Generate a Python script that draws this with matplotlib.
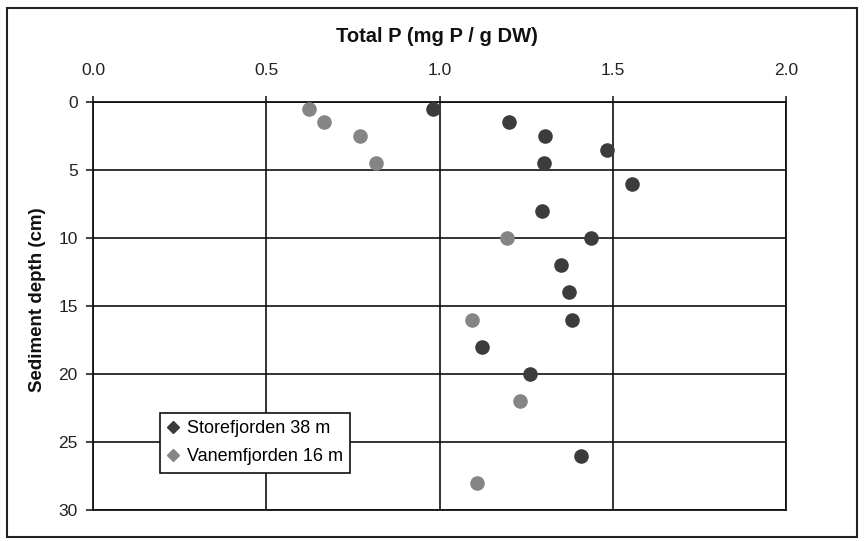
import matplotlib.pyplot as plt
from matplotlib.lines import Line2D
from matplotlib.patches import Rectangle

plt.rcParams['font.family'] = ['Liberation Sans', 'DejaVu Sans']

# Storefjorden 38 m
store_p = [0.98, 1.20, 1.305, 1.483, 1.302, 1.555, 1.296, 1.437, 1.351, 1.374, 1.382, 1.124, 1.261, 1.408]
store_depth = [0.5, 1.5, 2.5, 3.5, 4.5, 6, 8, 10, 12, 14, 16, 18, 20, 26]

# Vanemfjorden 16 m
vanem_p = [0.624, 0.667, 0.770, 0.816, 1.195, 1.095, 1.233, 1.109]
vanem_depth = [0.5, 1.5, 2.5, 4.5, 10, 16, 22, 28]

x_ticks = [0.0, 0.5, 1.0, 1.5, 2.0]
y_ticks = [0, 5, 10, 15, 20, 25, 30]

dark = '#3c3c3c'
gray = '#858585'

fig = plt.figure(figsize=(8.64, 5.41), dpi=100)
ax = fig.add_axes([93 / 864, 1 - 510 / 541, (786 - 93) / 864, (510 - 102) / 541])

ax.plot(store_p, store_depth, 'o', color=dark, markersize=10.5, markeredgewidth=0, zorder=3)
ax.plot(vanem_p, vanem_depth, 'o', color=gray, markersize=10.5, markeredgewidth=0, zorder=3)

ax.set_xlim(0, 2.0)
ax.set_ylim(30, 0)
ax.xaxis.tick_top()
ax.set_xticks(x_ticks)
ax.set_xticklabels([f'{t:.1f}' for t in x_ticks])
ax.set_yticks(y_ticks)
ax.tick_params(axis='x', direction='out', length=4, width=1.2, pad=13, labelsize=12.5, colors='#222222')
ax.tick_params(axis='y', direction='out', length=5, width=1.2, pad=6, labelsize=12.5, colors='#222222')

ax.grid(True, color='#111111', linewidth=1.2)
ax.set_axisbelow(True)
for side in ['top', 'left', 'right', 'bottom']:
    ax.spines[side].set_color('#111111')
    ax.spines[side].set_linewidth(1.3)

fig.text(437 / 864, 1 - 37 / 541, 'Total P (mg P / g DW)', fontsize=14.5, fontweight='bold',
         ha='center', va='center', color='#111111')
fig.text(38 / 864, 1 - 300 / 541, 'Sediment depth (cm)', fontsize=13.5, fontweight='bold',
         rotation=90, ha='center', va='center', color='#111111')

handles = [
    Line2D([], [], marker='D', linestyle='none', color=dark, markersize=6.5, label='Storefjorden 38 m'),
    Line2D([], [], marker='D', linestyle='none', color=gray, markersize=6.5, label='Vanemfjorden 16 m'),
]
leg = ax.legend(handles=handles, loc='lower left', bbox_to_anchor=(0.0967, 0.0907),
                fontsize=13, frameon=True, fancybox=False, handlelength=0.6,
                handletextpad=0.45, borderpad=0.42, labelspacing=0.62, borderaxespad=0)
leg.get_frame().set_edgecolor('#111111')
leg.get_frame().set_linewidth(1.2)
leg.get_frame().set_alpha(1)

# outer frame around the chart
fig.patches.append(Rectangle((7 / 864, 1 - 537 / 541), (857 - 7) / 864, (537 - 8) / 541,
                             transform=fig.transFigure, fill=False, edgecolor='#222222', linewidth=1.5))

fig.savefig('out.png', dpi=100)
